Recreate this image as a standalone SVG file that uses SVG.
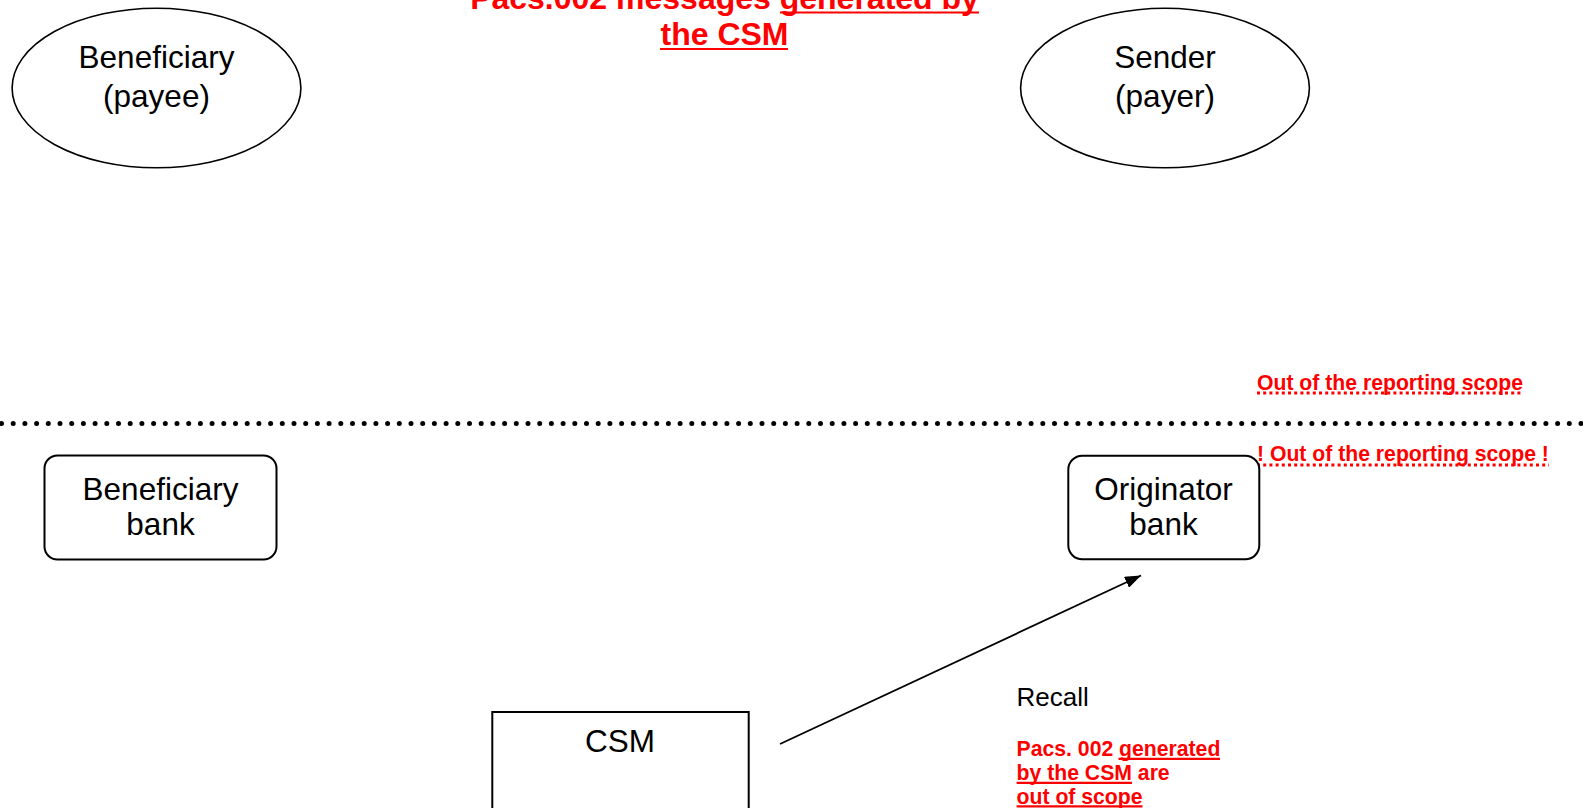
<svg xmlns="http://www.w3.org/2000/svg" width="1583" height="808" viewBox="0 0 1583 808">
<style>
.lbl{font-family:"Liberation Sans",Arial,sans-serif;font-size:31.5px;fill:#000;text-anchor:middle}
.red{font-family:"Liberation Sans",Arial,sans-serif;font-weight:bold;fill:#ff0000}
.shape{fill:#fff;stroke:#000;stroke-width:1.6}
.box{fill:#fff;stroke:#000;stroke-width:2}
.ul{stroke:#ff0000;stroke-width:2.2}
.dul{stroke:#ff0000;stroke-width:3;stroke-dasharray:3 3.2}
</style>
<defs>
<marker id="arr" markerWidth="16" markerHeight="12" refX="16" refY="6" orient="auto" markerUnits="userSpaceOnUse">
<path d="M0,0 L16,6 L0,12 z" fill="#000"/>
</marker>
</defs>
<rect width="1583" height="808" fill="#fff"/>

<g id="title">
<text class="red" font-size="32" x="724.5" y="8.5" text-anchor="middle">Pacs.002 messages generated by</text>
<text class="red" font-size="32" x="724.5" y="45" text-anchor="middle">the CSM</text>
<line class="ul" x1="780" y1="12.5" x2="979" y2="12.5" stroke-width="3"/>
<line class="ul" x1="660" y1="49" x2="788" y2="49" stroke-width="3"/>
</g>

<g id="beneficiary">
<ellipse class="shape" cx="156.5" cy="88" rx="144.4" ry="79.8"/>
<text class="lbl" x="156.5" y="68">Beneficiary</text>
<text class="lbl" x="156.5" y="106.5">(payee)</text>
</g>

<g id="sender">
<ellipse class="shape" cx="1165" cy="88" rx="144.4" ry="79.8"/>
<text class="lbl" x="1165" y="68">Sender</text>
<text class="lbl" x="1165" y="106.5">(payer)</text>
</g>

<g id="separator">
<line x1="1.5" y1="423.5" x2="1583" y2="423.5" stroke="#000" stroke-width="5" stroke-linecap="round" stroke-dasharray="0 11.7"/>
</g>

<g id="scope-notes">
<text class="red" font-size="21.2" x="1257" y="389.5">Out of the reporting scope</text>
<line class="dul" x1="1257" y1="393" x2="1523" y2="393"/>
<text class="red" font-size="21.2" x="1257" y="461">! Out of the reporting scope !</text>
<line class="dul" x1="1257" y1="465" x2="1549" y2="465"/>
</g>

<g id="beneficiary-bank">
<rect class="box" x="44.5" y="455.5" width="232" height="104" rx="13"/>
<text class="lbl" x="160.5" y="500">Beneficiary</text>
<text class="lbl" x="160.5" y="535">bank</text>
</g>

<g id="originator-bank">
<rect class="box" x="1068.3" y="455.7" width="191" height="103.6" rx="14"/>
<text class="lbl" x="1163.5" y="500">Originator</text>
<text class="lbl" x="1163.5" y="535">bank</text>
</g>

<g id="csm">
<rect class="box" x="492.3" y="712" width="256.4" height="110"/>
<text class="lbl" x="620" y="752">CSM</text>
</g>

<g id="connectors">
<line x1="780" y1="744" x2="1141" y2="575.5" stroke="#000" stroke-width="1.8" marker-end="url(#arr)"/>
</g>

<g id="recall-label">
<text x="1016.6" y="705.5" font-family="'Liberation Sans',Arial,sans-serif" font-size="26" fill="#000">Recall</text>
<text class="red" font-size="21.2" x="1016.6" y="756">Pacs. 002 generated</text>
<text class="red" font-size="21.2" x="1016.6" y="780">by the CSM are</text>
<text class="red" font-size="21.2" x="1016.6" y="803.5">out of scope</text>
<line class="ul" x1="1118.5" y1="758.8" x2="1220" y2="758.8"/>
<line class="ul" x1="1016.6" y1="782.8" x2="1132" y2="782.8"/>
<line class="ul" x1="1016.6" y1="806.3" x2="1142.5" y2="806.3"/>
</g>
</svg>
